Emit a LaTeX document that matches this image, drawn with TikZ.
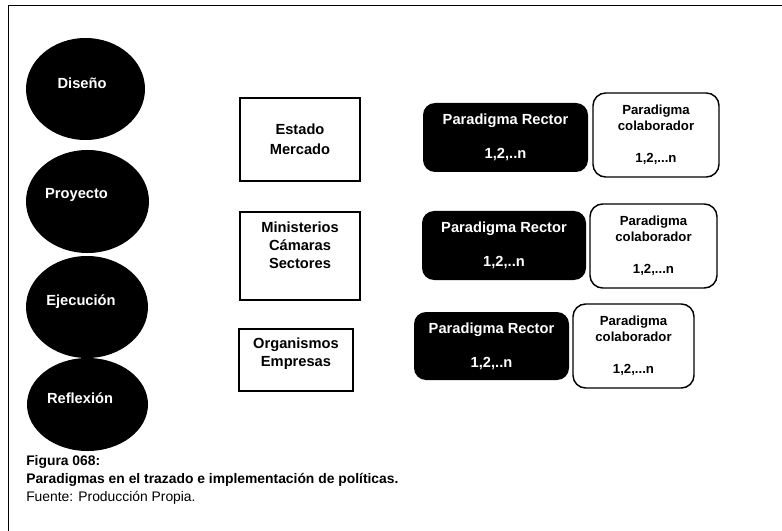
\documentclass[tikz,border=0pt]{standalone}
\usepackage{fontspec}
\setmainfont{Liberation Sans}
\usetikzlibrary{shapes.geometric}
\begin{document}
\begin{tikzpicture}[x=0.75pt, y=-0.75pt,
    ciclo/.style={ellipse, fill=black, inner sep=0pt},
    ciclotxt/.style={text=white, font=\bfseries\fontsize{11}{13}\selectfont},
    caja/.style={draw=black, line width=1.1pt, inner sep=0pt},
    cajatxt/.style={align=center, font=\bfseries\fontsize{11}{13.5}\selectfont},
    rector/.style={rectangle, rounded corners=9pt, fill=black, text=white, inner sep=0pt,
        align=center, font=\bfseries\fontsize{11}{13}\selectfont},
    colab/.style={rectangle, rounded corners=9.5pt, draw=black, line width=1.1pt, inner sep=0pt,
        align=center, font=\bfseries\fontsize{9.9}{12}\selectfont}]
        \useasboundingbox (0,0) rectangle (782,531);
        \draw[line width=1.2pt] (8.5,531) -- (8.5,5.5) -- (782,5.5);

        % ciclo
        \node[ciclo, minimum width=89.25pt, minimum height=76.5pt,
            label={[ciclotxt, xshift=-2.6pt, yshift=4.5pt]center:Diseño}] (disenio) at (85.5,89) {};
        \node[ciclo, minimum width=92.25pt, minimum height=77.25pt,
            label={[ciclotxt, xshift=-8.2pt, yshift=4.9pt]center:Proyecto}] (proyecto) at (87.5,201.5) {};
        \node[ciclo, minimum width=91.5pt, minimum height=76.5pt,
            label={[ciclotxt, xshift=-4.5pt, yshift=3.8pt]center:Ejecución}] (ejecucion) at (87,307) {};
        \node[ciclo, minimum width=90.75pt, minimum height=69.75pt,
            label={[ciclotxt, xshift=-5.6pt, yshift=4.9pt]center:Reflexión}] (reflexion) at (87.5,404.5) {};

        % actores
        \node[caja, minimum width=90pt, minimum height=62.25pt,
            label={[cajatxt]center:Estado\\[1.5pt]Mercado}] (estado) at (300,139.5) {};
        \node[caja, minimum width=90pt, minimum height=66pt,
            label={[cajatxt, yshift=7.9pt]center:Ministerios\\Cámaras\\Sectores}] (minist) at (300,256) {};
        \node[caja, minimum width=85.5pt, minimum height=46.5pt,
            label={[cajatxt, yshift=4.5pt]center:Organismos\\Empresas}] (organ) at (296,360) {};

        % paradigmas
        \node[rector, minimum width=123.75pt, minimum height=51.75pt] (rector1) at (505.5,137.5)
            {Paradigma Rector\\[12.5pt]1,2,..n};
        \node[rector, minimum width=123pt, minimum height=51.75pt] (rector2) at (504,245.5)
            {Paradigma Rector\\[12.5pt]1,2,..n};
        \node[rector, minimum width=116.25pt, minimum height=51pt] (rector3) at (491.5,346)
            {Paradigma Rector\\[12.5pt]1,2,..n};
        \node[colab, minimum width=94.5pt, minimum height=63pt] (colab1) at (656,135)
            {Paradigma\\colaborador\\[12pt]1,2,...n};
        \node[colab, minimum width=95.25pt, minimum height=63pt] (colab2) at (653.5,246)
            {Paradigma\\colaborador\\[12pt]1,2,...n};
        \node[colab, minimum width=90.75pt, minimum height=63pt] (colab3) at (633.5,346)
            {Paradigma\\colaborador\\[12pt]1,2,...n};

        \node[anchor=west, inner sep=0pt, align=left, font=\fontsize{10.4}{13.5}\selectfont] (pie) at (26,479.5)
            {\textbf{Figura 068:}\\\textbf{Paradigmas en el trazado e implementación de políticas.}\\Fuente: Producción Propia.};
\end{tikzpicture}
\end{document}
